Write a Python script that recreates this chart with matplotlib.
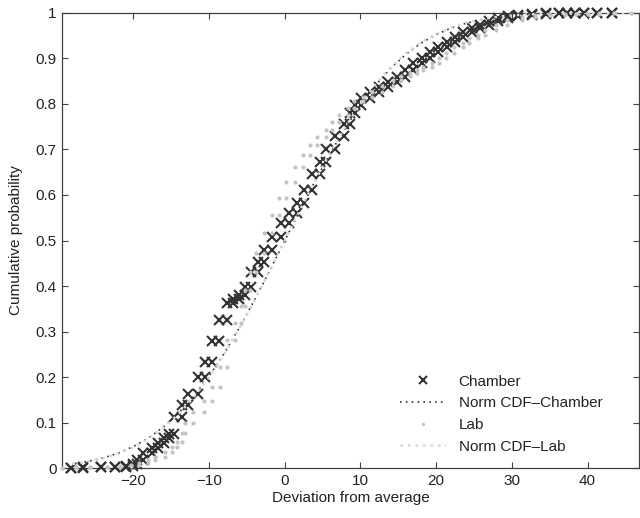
import numpy as np
import matplotlib
matplotlib.use("Agg")
import matplotlib.pyplot as plt

plt.rcParams['font.family'] = ['Liberation Sans', 'DejaVu Sans']

# ---- Chamber: empirical CDF (step location, level after the step)
chamber_x = [-28.3, -26.7, -24.3, -22.4, -21.0, -20.1, -19.5, -18.7, -17.5, -16.7,
             -16.0, -15.3, -14.6, -13.6, -12.8, -11.5, -10.5, -9.6, -8.7, -7.6,
             -6.8, -6.0, -5.2, -4.5, -3.5, -2.7, -1.7, -0.5, 0.5, 1.6,
             2.6, 3.6, 4.7, 5.5, 6.6, 7.8, 8.6, 9.3, 10.1, 11.3,
             12.4, 13.6, 14.8, 15.9, 17.0, 18.1, 19.2, 20.3, 21.4, 22.5,
             23.6, 24.7, 25.8, 27.0, 28.2, 29.5, 30.8, 32.6, 34.5, 36.2,
             37.3, 38.3, 39.5, 41.2, 43.2]
chamber_F = [0.001, 0.002, 0.003, 0.004, 0.006, 0.009, 0.018, 0.033, 0.044, 0.055,
             0.066, 0.075, 0.112, 0.140, 0.163, 0.200, 0.233, 0.280, 0.325, 0.362,
             0.371, 0.381, 0.397, 0.432, 0.453, 0.480, 0.508, 0.538, 0.560, 0.582,
             0.611, 0.645, 0.672, 0.700, 0.730, 0.756, 0.780, 0.798, 0.813, 0.826,
             0.837, 0.848, 0.859, 0.875, 0.890, 0.900, 0.914, 0.925, 0.936, 0.947,
             0.958, 0.967, 0.974, 0.981, 0.988, 0.993, 0.996, 0.998, 0.999, 0.999,
             0.999, 1.0, 1.0, 1.0, 1.0]

# ---- Lab: empirical CDF
lab_x = [-29.4, -27.6, -25.8, -23.5, -21.8, -20.3, -19.2, -18.1, -17.1, -15.8,
         -14.9, -14.2, -13.6, -13.2, -12.1, -10.7, -9.6, -8.6, -7.6, -6.6,
         -5.8, -5.3, -4.6, -3.8, -2.8, -1.75, -0.8, 0.2, 1.3, 2.4,
         3.3, 4.3, 5.5, 6.3, 7.2, 8.3, 9.2, 10.3, 11.5, 12.9,
         14.3, 15.4, 16.5, 17.4, 18.3, 19.4, 20.4, 21.3, 22.4, 23.5,
         24.4, 25.5, 26.5, 27.9, 29.3, 31.3, 33.0, 35.0, 37.0, 38.5,
         40.0, 41.5, 43.5, 45.8]
lab_F = [0.001, 0.002, 0.003, 0.004, 0.006, 0.008, 0.012, 0.018, 0.024, 0.035,
         0.046, 0.057, 0.077, 0.099, 0.123, 0.147, 0.178, 0.222, 0.282, 0.320,
         0.357, 0.391, 0.431, 0.472, 0.516, 0.556, 0.593, 0.629, 0.662, 0.688,
         0.710, 0.728, 0.743, 0.760, 0.776, 0.790, 0.806, 0.815, 0.826, 0.840,
         0.853, 0.861, 0.868, 0.875, 0.881, 0.890, 0.900, 0.912, 0.925, 0.934,
         0.945, 0.952, 0.963, 0.974, 0.985, 0.991, 0.994, 0.996, 0.997, 0.998,
         0.998, 0.999, 0.999, 1.0]

# ---- fitted normal CDFs
norm_x = [-28, -26, -24, -22, -20, -18, -16, -14, -12, -10, -8, -6, -4, -2, 0,
          2, 4, 6, 8, 10, 12, 14, 16, 18, 20, 22, 24, 26, 28, 30,
          32, 34, 36, 38, 40, 42, 44, 46]
norm_chamber = [0.0098, 0.0151, 0.0228, 0.0334, 0.0478, 0.0668, 0.0912, 0.1217,
                0.1587, 0.2023, 0.2525, 0.3085, 0.3694, 0.4338, 0.5,
                0.5662, 0.6306, 0.6915, 0.7475, 0.7977, 0.8413, 0.8783, 0.9088,
                0.9332, 0.9522, 0.9666, 0.9772, 0.9849, 0.9902, 0.9938,
                0.9962, 0.9977, 0.9987, 0.9992, 0.9996, 0.9998, 0.9999, 1.0]
norm_lab = [0.0093, 0.0144, 0.0219, 0.0322, 0.0464, 0.0652, 0.0894, 0.1197,
            0.1567, 0.2004, 0.2508, 0.3071, 0.3684, 0.4333, 0.5,
            0.5667, 0.6316, 0.6929, 0.7492, 0.7996, 0.8433, 0.8803, 0.9106,
            0.9348, 0.9536, 0.9678, 0.9781, 0.9856, 0.9907, 0.9941,
            0.9964, 0.9979, 0.9988, 0.9993, 0.9996, 0.9998, 0.9999, 1.0]


def stairs(xv, fv):
    # cdfplot-style staircase: each step gives (x, previous level) and (x, level)
    xv = np.asarray(xv)
    fv = np.asarray(fv)
    xs = np.repeat(xv, 2)
    ys = np.column_stack([np.r_[0.0, fv[:-1]], fv]).ravel()
    return xs, ys


dark = '#333333'
light = '#c4c4c4'

fig = plt.figure(figsize=(6.4, 5.18), dpi=100)
ax = fig.add_axes([0.0973, 0.0959, 0.9012, 0.8795])

cx, cy = stairs(chamber_x, chamber_F)
lx, ly = stairs(lab_x, lab_F)

ax.plot(norm_x[:-1], norm_chamber[:-1], linestyle=(0, (1, 2.5)), linewidth=1.2,
        color=dark, label='Norm CDF\u2013Chamber', zorder=2)
ax.plot(cx, cy, linestyle='none', marker='x', markersize=6.8, markeredgewidth=1.5,
        color=dark, label='Chamber', clip_on=False, zorder=3)
ax.plot(lx, ly, linestyle='none', marker='o', markersize=3, markeredgewidth=0,
        color=light, label='Lab', clip_on=False, zorder=4)
ax.plot(norm_x, norm_lab, linestyle=(0, (1, 2.0)), linewidth=1.8,
        color='#d6d6d6', label='Norm CDF\u2013Lab', zorder=4)

ax.set_xlim(-29.4, 46.8)
ax.set_ylim(0, 1)
ax.set_xticks([-20, -10, 0, 10, 20, 30, 40])
ax.set_yticks(np.arange(0, 1.01, 0.1))
ax.set_yticklabels(['0', '0.1', '0.2', '0.3', '0.4', '0.5', '0.6', '0.7', '0.8', '0.9', '1'])

ax.tick_params(direction='in', length=4, width=0.8, top=True, right=True,
               labelsize=11, colors='#404040', labelcolor='#222222', pad=4)
for s in ax.spines.values():
    s.set_color('#404040')
    s.set_linewidth(0.9)

ax.set_xlabel('Deviation from average', fontsize=11, color='#222222', labelpad=2)
ax.set_ylabel('Cumulative probability', fontsize=11, color='#222222', labelpad=9)

# legend order as in the reference
h, l = ax.get_legend_handles_labels()
order = [1, 0, 2, 3]
leg = ax.legend([h[i] for i in order], [l[i] for i in order],
                loc='lower left', bbox_to_anchor=(0.585, 0.032), frameon=False,
                fontsize=11, handlelength=3.0, handletextpad=0.85,
                labelspacing=0.5, borderpad=0, borderaxespad=0, markerscale=0.8)
for t in leg.get_texts():
    t.set_color('#222222')

fig.savefig('out.png', dpi=100)
